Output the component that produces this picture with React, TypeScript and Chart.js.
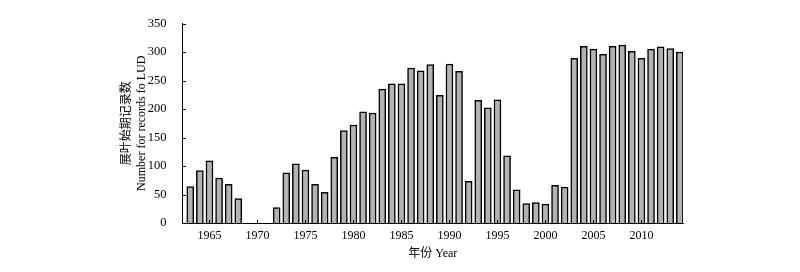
import React, { useEffect, useRef } from "react";
import { Chart, registerables } from "chart.js";

Chart.register(...registerables);

const years: number[] = [
  1963, 1964, 1965, 1966, 1967, 1968, 1969, 1970, 1971, 1972,
  1973, 1974, 1975, 1976, 1977, 1978, 1979, 1980, 1981, 1982,
  1983, 1984, 1985, 1986, 1987, 1988, 1989, 1990, 1991, 1992,
  1993, 1994, 1995, 1996, 1997, 1998, 1999, 2000, 2001, 2002,
  2003, 2004, 2005, 2006, 2007, 2008, 2009, 2010, 2011, 2012,
  2013, 2014,
];

const records: (number | null)[] = [
  64, 92, 109, 79, 68, 43, null, null, null, 27,
  88, 104, 93, 68, 54, 115, 162, 172, 195, 193,
  235, 244, 244, 272, 267, 278, 224, 279, 266, 73,
  215, 202, 216, 118, 58, 34, 36, 33, 66, 63,
  289, 310, 305, 296, 310, 312, 301, 289, 305, 309,
  306, 300,
];

const xTickYears: number[] = [1965, 1970, 1975, 1980, 1985, 1990, 1995, 2000, 2005, 2010];
const yTickValues: number[] = [0, 50, 100, 150, 200, 250, 300, 350];

const yTitle: string[] = ["展叶始期记录数", "Number for records fo LUD"];
const xTitle = "年份 Year";

const FONT = "'Liberation Serif', 'Noto Sans CJK SC', serif";

const innerTicks = {
  id: "innerTicks",
  afterDraw(chart: any) {
    const { ctx, chartArea, scales } = chart;
    ctx.save();
    ctx.strokeStyle = "#000";
    ctx.lineWidth = 1;
    ctx.beginPath();
    scales.y.ticks.forEach((t: any) => {
      const py = Math.round(scales.y.getPixelForValue(t.value)) + 0.5;
      ctx.moveTo(chartArea.left, py);
      ctx.lineTo(chartArea.left + 3.5, py);
    });
    scales.x.ticks.forEach((t: any) => {
      const px = Math.round(scales.x.getPixelForValue(t.value)) + 0.5;
      ctx.moveTo(px, chartArea.bottom);
      ctx.lineTo(px, chartArea.bottom - 3);
    });
    ctx.stroke();
    ctx.restore();
  },
};

export default function App() {
  const ref = useRef<HTMLCanvasElement | null>(null);

  useEffect(() => {
    document.body.style.margin = "0";
    if (!ref.current) return;
    const data = years.map((yr, i) => ({ x: yr, y: records[i] }));
    const chart = new Chart(ref.current, {
      type: "bar",
      data: {
        datasets: [
          {
            data: data as any,
            backgroundColor: "#b3b3b3",
            borderColor: "#000000",
            borderWidth: 1.5,
            barThickness: 7,
          },
        ],
      },
      options: {
        animation: false,
        responsive: false,
        devicePixelRatio: 1,
        layout: { padding: { left: 119, right: 117, top: 16, bottom: 11 } },
        plugins: { legend: { display: false }, tooltip: { enabled: false } },
        scales: {
          x: {
            type: "linear",
            offset: false,
            min: 1962.19,
            max: 2014.33,
            grid: { display: false, drawTicks: false },
            border: { display: true, color: "#000", width: 1 },
            afterBuildTicks: (scale: any) => {
              scale.ticks = xTickYears.map((v) => ({ value: v }));
            },
            afterFit: (scale: any) => {
              scale.height = 38;
            },
            ticks: {
              color: "#000",
              font: { family: FONT, size: 12 },
              padding: 6,
              maxRotation: 0,
              autoSkip: false,
              callback: (v: any) => String(v),
            },
            title: {
              display: true,
              text: xTitle,
              color: "#000",
              font: { family: FONT, size: 12, lineHeight: 1.25 },
              padding: 0,
            },
          },
          y: {
            min: 0,
            max: 350,
            grid: { display: false, drawTicks: false },
            border: { display: true, color: "#000", width: 1 },
            afterBuildTicks: (scale: any) => {
              scale.ticks = yTickValues.map((v) => ({ value: v }));
            },
            afterFit: (scale: any) => {
              scale.width = 63.5;
            },
            ticks: {
              color: "#000",
              font: { family: FONT, size: 12.5 },
              padding: 16,
            },
            title: {
              display: true,
              text: yTitle,
              color: "#000",
              font: { family: FONT, size: 12, lineHeight: 1.25 },
              padding: 0,
            },
          },
        },
      },
      plugins: [innerTicks],
    });
    return () => chart.destroy();
  }, []);

  return (
    <div style={{ width: 800, height: 272, background: "#fff" }}>
      <canvas ref={ref} width={800} height={272} />
    </div>
  );
}
